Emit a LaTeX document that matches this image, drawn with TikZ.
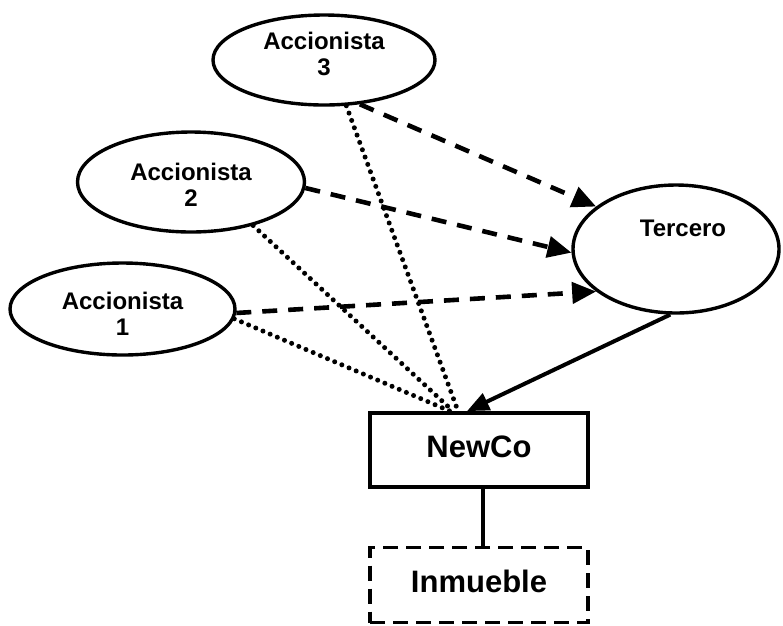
\documentclass[tikz,border=0pt]{standalone}
\usepackage{fontspec}
\setmainfont{Liberation Sans}
\usetikzlibrary{shapes.geometric,arrows.meta}
\begin{document}
\begin{tikzpicture}[x=1pt,y=-1pt,
  ell/.style={draw,ellipse,line width=3.4pt,inner sep=0pt},
  etext/.style={font=\fontsize{24}{26}\selectfont\bfseries,align=center,inner sep=0pt},
  btext/.style={font=\fontsize{31}{34}\selectfont\bfseries,inner sep=0pt},
  box/.style={draw,line width=3.8pt,minimum width=218pt,minimum height=74pt,inner sep=0pt},
  dbox/.style={box,dash pattern=on 15pt off 8pt},
  darrow/.style={line width=4.6pt,dash pattern=on 15pt off 11pt,-{Triangle[length=24pt,width=21pt]}},
  dotline/.style={line width=5pt,line cap=round,dash pattern=on 0pt off 7.8pt},
  sarrow/.style={line width=4pt,-{Triangle[length=22pt,width=18pt]}}
]
\useasboundingbox[fill=white] (0,0) rectangle (783,625);

% ellipses
\node[ell,minimum width=222pt,minimum height=90pt] (a3) at (324,60) {};
\node[etext] (t3) at (324,53.5) {Accionista\\3};
\node[ell,minimum width=227pt,minimum height=100pt] (a2) at (191,182) {};
\node[etext] (t2) at (191,184.5) {Accionista\\2};
\node[ell,minimum width=225pt,minimum height=92pt] (a1) at (122.5,309) {};
\node[etext] (t1) at (122.5,314) {Accionista\\1};
\node[ell,minimum width=206pt,minimum height=128pt] (ter) at (676,249) {};
\node[etext] (tt) at (683,228) {Tercero};

% boxes
\node[box] (newco) at (479,450) {};
\node[btext] (tn) at (479,447) {NewCo};
\node[dbox,minimum height=75pt] (inm) at (479,585) {};
\node[btext] (ti) at (479,581) {Inmueble};

% dashed arrows to Tercero
\draw[darrow] (a3.-51) -- (ter.152);
\draw[darrow] (a2.-3) -- (ter.182);
\draw[darrow] (a1.-2) -- (ter.208);

% dotted lines to NewCo
\draw[dotline] (a3.-64) -- ([xshift=-21pt]newco.north);
\draw[dotline] (a2.-35) -- ([xshift=-26pt]newco.north);
\draw[dotline] (a1.-5) -- ([xshift=-29pt]newco.north);

% solid arrow Tercero -> NewCo
\draw[sarrow] (ter.265) -- ([xshift=-12pt]newco.north);

% NewCo -- Inmueble
\draw[line width=3.5pt] ([xshift=4pt]newco.south) -- ([xshift=4pt]inm.north);
\end{tikzpicture}
\end{document}
